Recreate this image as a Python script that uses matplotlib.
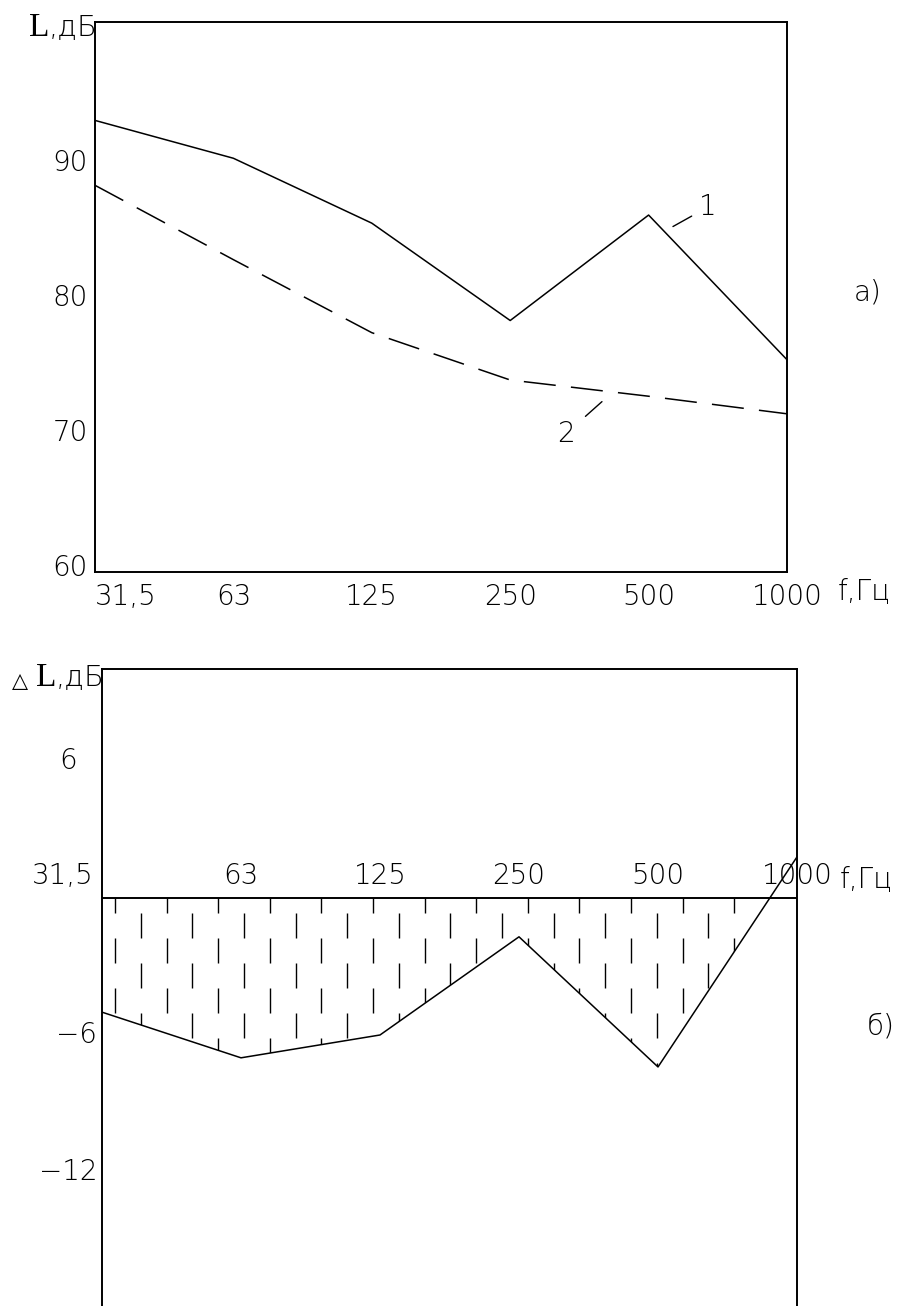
import numpy as np
import matplotlib
matplotlib.use("Agg")
import matplotlib.pyplot as plt

# data
freqs = ["31,5", "63", "125", "250", "500", "1000"]
level_1 = [92.9, 90.1, 85.3, 78.1, 85.9, 75.2]
level_2 = [88.1, 82.6, 77.2, 73.7, 72.5, 71.2]
delta_l = [-5.0, -7.0, -6.0, -1.7, -7.4, 1.8]
top_yticks = [60, 70, 80, 90]
bottom_yticks = [6, -6, -12]

W, H = 912, 1306
FONT = ["DejaVu Sans", "Roboto"]
plt.rcParams["font.family"] = FONT
plt.rcParams["font.weight"] = "light"
TS = 20

fig = plt.figure(figsize=(W / 100, H / 100), dpi=100)
x = np.arange(len(freqs))

# ---- panel a)
ax1 = fig.add_axes([95 / W, 1 - 572 / H, 692 / W, (572 - 21.7) / H])
ax1.plot(x, level_1, color="black", lw=1.1)
ax1.plot(x, level_2, color="black", lw=1.1, linestyle=(0, (21, 10)))
ax1.set_xlim(0, 5)
ax1.set_ylim(59.5, 100.2)
ax1.set_xticks(x)
ax1.set_xticklabels(freqs, fontsize=TS)
ax1.get_xticklabels()[0].set_ha("left")
ax1.set_yticks(top_yticks)
ax1.set_yticklabels([str(v) for v in top_yticks], fontsize=TS)
ax1.tick_params(length=0, pad=5)
ax1.tick_params(axis="x", pad=8)
for s in ax1.spines.values():
    s.set_linewidth(1.4)

ax1.annotate("1", xy=(4.176, 85.05), xytext=(4.43, 86.5), fontsize=TS,
             ha="center", va="center",
             arrowprops=dict(arrowstyle="-", lw=1.0, shrinkA=4, shrinkB=0))
ax1.annotate("2", xy=(3.663, 72.1), xytext=(3.40, 69.7), fontsize=TS,
             ha="center", va="center",
             arrowprops=dict(arrowstyle="-", lw=1.0, shrinkA=8, shrinkB=0))

fig.text(49 / W, 1 - 28 / H, "L", family="Liberation Serif", fontsize=24,
         ha="right", va="center", weight="normal")
fig.text(49 / W, 1 - 28 / H, ",дБ", fontsize=21, ha="left", va="center")
fig.text(838 / W, 1 - 592 / H, "f,Гц", fontsize=TS, ha="left", va="center")
fig.text(868 / W, 1 - 293 / H, "а)", fontsize=TS, ha="center", va="center")

# ---- panel б)
ax2 = fig.add_axes([102 / W, 0, 695 / W, (H - 669) / H])
ax2.set_xlim(0, 5)
ax2.set_ylim(-17.87, 10.03)
ax2.axhline(0, color="black", lw=1.4)
ax2.plot(x, delta_l, color="black", lw=1.1)

area = ax2.fill_between(x, delta_l, 0, where=np.array(delta_l) <= 0.5,
                        interpolate=True, facecolor="none", edgecolor="none")
clip = area.get_paths()[0]

# staggered vertical hatch dashes
step = 25.8 / 139.0
cols = np.arange(13 / 139.0, 5, step)
for k, cx in enumerate(cols):
    off = 7.2 if k % 2 == 0 else 25.2
    ln, = ax2.plot([cx, cx], [0, -17.87], color="black", lw=1.0,
                   linestyle=(off, (18, 18)))
    ln.set_clip_path(clip, ax2.transData)

ax2.set_xticks([])
ax2.set_yticks([])
ax2.spines["bottom"].set_visible(False)
for s in ax2.spines.values():
    s.set_linewidth(1.4)

# y labels of the lower panel (hand placed in the original)
ylab_off = [-18, -4, -3]
for v, dx in zip(bottom_yticks, ylab_off):
    ax2.annotate(str(v).replace("-", "\u2212"), xy=(0, v), xytext=(dx, 0),
                 textcoords="offset points", fontsize=TS, ha="right",
                 va="center", annotation_clip=False)

ax2.annotate("31,5", xy=(0, 0), xytext=(-6, 6), textcoords="offset points",
             fontsize=TS, ha="right", va="bottom", annotation_clip=False)
for i in range(1, len(freqs)):
    ax2.annotate(freqs[i], xy=(i, 0), xytext=(0, 6), textcoords="offset points",
                 fontsize=TS, ha="center", va="bottom")

fig.text(28 / W, 1 - 681 / H, "\u25b3", family=["DejaVu Sans", "Noto Sans CJK SC"],
         fontsize=15, ha="right", va="center", weight="normal")
fig.text(56 / W, 1 - 678 / H, "L", family="Liberation Serif", fontsize=24,
         ha="right", va="center", weight="normal")
fig.text(56 / W, 1 - 678 / H, ",дБ", fontsize=21, ha="left", va="center")
fig.text(840 / W, 1 - 880 / H, "f,Гц", fontsize=TS, ha="left", va="center")
fig.text(881 / W, 1 - 1027 / H, "б)", fontsize=TS, ha="center", va="center")

fig.savefig("out.png", dpi=100, facecolor="white")
